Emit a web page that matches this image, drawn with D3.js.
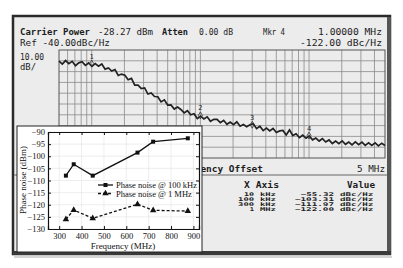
<!DOCTYPE html>
<html>
<head>
<meta charset="utf-8">
<script src="https://cdn.jsdelivr.net/npm/d3@7"></script>
<style>
body{margin:0;background:#fff;}
svg{display:block;}
.mono{font-family:"DejaVu Sans Mono",monospace;fill:#1c1c1c;}
.serif{font-family:"Liberation Serif","Times New Roman",serif;fill:#111;}
</style>
</head>
<body>
<svg width="403" height="268"></svg>
<script>
// spectrum trace, dBc/Hz, sweep 5 kHz .. 5 MHz (log spaced bins)
const sweepStart=5e3, sweepStop=5e6;
const traceValues=[-50.3,-53.1,-49.8,-52.7,-50.5,-54.5,-51.9,-50.8,-54.2,-52.0,
  -55.2,-52.5,-54.9,-52.9,-57.7,-56.6,-59.5,-58.1,-63.6,-62.3,
  -63.3,-67.5,-66.3,-72.5,-72.5,-75.7,-75.1,-80.8,-79.7,-83.1,
  -83.3,-88.1,-86.2,-91.0,-90.8,-94.7,-92.9,-95.1,-98.2,-96.2,
  -99.9,-99.0,-103.5,-101.3,-103.9,-101.9,-106.0,-104.2,-104.2,-107.3,
  -105.1,-108.8,-106.7,-109.2,-106.5,-110.6,-109.0,-111.1,-109.2,-108.2,
  -112.8,-110.6,-114.6,-112.3,-114.9,-112.7,-116.4,-114.9,-114.5,-118.7,
  -114.0,-119.2,-117.6,-121.1,-118.9,-121.7,-119.6,-123.2,-121.5,-124.3,
  -122.0,-125.2,-123.3,-126.6,-124.3,-126.7,-124.2,-127.3,-125.2,-127.8,
  -125.1,-127.6,-125.3,-128.3,-126.0,-128.4,-126.0,-128.7,-126.3,-128.4];

// marker table
const markerFreqs=[1e4,1e5,3e5,1e6];
const markerOffsets=["10","100","300","1"];
const markerUnits=["kHz","kHz","kHz","MHz"];
const markerValues=[-55.32,-103.31,-111.97,-122.00];

// inset chart
const frequencies=[330,365,450,650,720,875];
const noise100k=[-108.0,-103.3,-108.0,-98.5,-94.0,-92.6];
const noise1M=[-126.0,-122.2,-125.6,-119.8,-122.3,-122.6];
const xTicks=[300,400,500,600,700,800,900];
const yTicks=[-90,-95,-100,-105,-110,-115,-120,-125,-130];

const svg=d3.select("svg");
const fmt=d3.format(".2f");

// screen + bezel
svg.append("rect").attr("x",14).attr("y",17).attr("width",375).attr("height",236).attr("fill","#ececec");
svg.append("rect").attr("x",13).attr("y",16).attr("width",377).attr("height",238)
   .attr("fill","none").attr("stroke","#2a2a2a").attr("stroke-width",2.5);
svg.append("rect").attr("x",387).attr("y",17).attr("width",4).attr("height",238).attr("fill","#555");
svg.append("rect").attr("x",13).attr("y",251).attr("width",378).attr("height",4).attr("fill","#3a3a3a");
svg.append("line").attr("x1",14).attr("x2",392).attr("y1",257).attr("y2",257).attr("stroke","#aaa").attr("stroke-width",1);

// header text
function txt(s,x,y,len,bold,size){
  return svg.append("text").attr("class","mono").attr("x",x).attr("y",y)
    .attr("font-size",size||9.3).attr("font-weight",bold?"bold":"normal")
    .attr("textLength",len).attr("lengthAdjust","spacingAndGlyphs").text(s);
}
txt("Carrier Power",20,35,70,true);
txt("-28.27 dBm",98,35,55);
txt("Atten",162,35,26,true);
txt("0.00 dB",199,35,34);
txt("Mkr 4",263,35,22);
txt("1.00000 MHz",318,35,64);
txt("Ref -40.00dBc/Hz",20,46,90);
txt("-122.00 dBc/Hz",300,46,82);
txt("10.00",20,60,24,false,8.5);
txt("dB/",20,70,16,false,8.5);
txt("Frequency Offset",172,172,91,true);
txt("5 MHz",357,172,28);

// spectrum grid
const x=d3.scaleLog().domain([sweepStart,sweepStop]).range([59,385]);
const y=d3.scaleLinear().domain([-40,-140]).range([50,158]);
const grid=svg.append("g");
const vlines=[];
[1e3,1e4,1e5,1e6].forEach(d=>{for(let k=1;k<10;k++){const f=d*k;if(f>sweepStart&&f<sweepStop)vlines.push(f);}});
grid.selectAll(".v").data(vlines).enter().append("line")
   .attr("x1",d=>x(d)).attr("x2",d=>x(d)).attr("y1",50).attr("y2",158)
   .attr("stroke","#8a8a8a").attr("stroke-width",0.8);
grid.selectAll(".h").data(d3.range(-50,-140,-10)).enter().append("line")
   .attr("x1",59).attr("x2",385).attr("y1",d=>y(d)).attr("y2",d=>y(d))
   .attr("stroke","#8a8a8a").attr("stroke-width",0.8);
grid.append("rect").attr("x",59).attr("y",50).attr("width",326).attr("height",108)
   .attr("fill","none").attr("stroke","#555").attr("stroke-width",1);
svg.append("line").attr("x1",14).attr("x2",387).attr("y1",175).attr("y2",175).attr("stroke","#666");

// trace
const n=traceValues.length;
const sweep=traceValues.map((v,i)=>[sweepStart*Math.pow(sweepStop/sweepStart,i/(n-1)),v]);
svg.append("path").datum(sweep)
   .attr("d",d3.line().x(d=>x(d[0])).y(d=>y(d[1])))
   .attr("fill","none").attr("stroke","#222").attr("stroke-width",1.7);

// markers
const mk=svg.append("g");
mk.selectAll("path").data(markerFreqs).enter().append("path")
  .attr("d",d3.symbol(d3.symbolDiamond,14)())
  .attr("transform",(d,i)=>"translate("+x(d)+","+(y(markerValues[i])-3)+")")
  .attr("fill","none").attr("stroke","#333").attr("stroke-width",0.8);
mk.selectAll("text").data(markerFreqs).enter().append("text")
  .attr("class","mono").attr("font-size",7).attr("text-anchor","middle")
  .attr("x",d=>x(d)).attr("y",(d,i)=>y(markerValues[i])-8).text((d,i)=>i+1);

// marker table
txt("X Axis",244,188,35,true);
txt("Value",347,188,28,true);
const rowY=i=>196+i*5;
function cell(s,x,yy,anchor){
  svg.append("text").attr("class","mono").attr("font-size",5).attr("font-weight","bold")
    .attr("x",x).attr("y",yy).attr("text-anchor",anchor)
    .attr("textLength",s.length*5.8-1.5).attr("lengthAdjust","spacingAndGlyphs").text(s);
}
markerOffsets.forEach((d,i)=>cell(d,254,rowY(i),"end"));
markerUnits.forEach((d,i)=>cell(d,260,rowY(i),"start"));
markerValues.forEach((d,i)=>cell(fmt(d),334,rowY(i),"end"));
markerValues.forEach((d,i)=>cell("dBc/Hz",340,rowY(i),"start"));

// inset chart
const inset=svg.append("g");
inset.append("rect").attr("x",17).attr("y",126).attr("width",185).attr("height",126)
  .attr("fill","#fff").attr("stroke","#222").attr("stroke-width",1);
const xi=d3.scaleLinear().domain([250,925]).range([48,199]);
const yi=d3.scaleLinear().domain([-130,-90]).range([229,132]);

inset.selectAll(".gx").data(xTicks).enter().append("line")
  .attr("x1",d=>xi(d)).attr("x2",d=>xi(d)).attr("y1",132).attr("y2",229)
  .attr("stroke","#e2e2e2").attr("stroke-width",0.6);
inset.selectAll(".gy").data(yTicks).enter().append("line")
  .attr("x1",48).attr("x2",199).attr("y1",d=>yi(d)).attr("y2",d=>yi(d))
  .attr("stroke","#e2e2e2").attr("stroke-width",0.6);

const ax=[
  inset.append("g").attr("transform","translate(0,229)").call(d3.axisBottom(xi).tickValues(xTicks).tickSize(-3).tickPadding(4)),
  inset.append("g").attr("transform","translate(0,132)").call(d3.axisTop(xi).tickValues(xTicks).tickSize(-3).tickFormat("")),
  inset.append("g").attr("transform","translate(48,0)").call(d3.axisLeft(yi).tickValues(yTicks).tickSize(-3).tickPadding(3)),
  inset.append("g").attr("transform","translate(199,0)").call(d3.axisRight(yi).tickValues(yTicks).tickSize(-3).tickFormat(""))
];
ax.forEach(a=>{
  a.select(".domain").attr("stroke","#111").attr("stroke-width",1.2);
  a.selectAll(".tick line").attr("stroke","#111");
  a.selectAll("text").attr("class","serif").attr("font-size",8.5).attr("fill","#111");
});

inset.append("text").attr("class","serif").attr("font-size",9).attr("text-anchor","middle")
  .attr("x",123).attr("y",249).text("Frequency (MHz)");
inset.append("text").attr("class","serif").attr("font-size",9).attr("text-anchor","middle")
  .attr("transform","translate(26,180) rotate(-90)").text("Phase noise (dBm)");

const line=d3.line().x((d,i)=>xi(frequencies[i])).y(d=>yi(d));
inset.append("path").datum(noise100k).attr("d",line).attr("fill","none").attr("stroke","#111").attr("stroke-width",1.3);
inset.append("path").datum(noise1M).attr("d",line).attr("fill","none").attr("stroke","#111").attr("stroke-width",1.3).attr("stroke-dasharray","3,2");
inset.selectAll(".sq").data(noise100k).enter().append("path")
  .attr("d",d3.symbol(d3.symbolSquare,16)())
  .attr("transform",(d,i)=>"translate("+xi(frequencies[i])+","+yi(d)+")").attr("fill","#111");
inset.selectAll(".tr").data(noise1M).enter().append("path")
  .attr("d",d3.symbol(d3.symbolTriangle,18)())
  .attr("transform",(d,i)=>"translate("+xi(frequencies[i])+","+yi(d)+")").attr("fill","#111");

// legend
const legend=[["Phase noise @ 100 kHz",null,d3.symbolSquare,16],["Phase noise @ 1 MHz","3,2",d3.symbolTriangle,18]];
const lg=inset.selectAll(".lg").data(legend).enter().append("g")
  .attr("transform",(d,i)=>"translate(98,"+(185+i*8.5)+")");
lg.append("line").attr("x1",0).attr("x2",15).attr("stroke","#111").attr("stroke-width",1.3)
  .attr("stroke-dasharray",d=>d[1]);
lg.append("path").attr("d",d=>d3.symbol(d[2],d[3])()).attr("transform","translate(7.5,0)").attr("fill","#111");
lg.append("text").attr("class","serif").attr("font-size",8.5).attr("x",18).attr("y",3).text(d=>d[0]);
</script>
</body>
</html>
